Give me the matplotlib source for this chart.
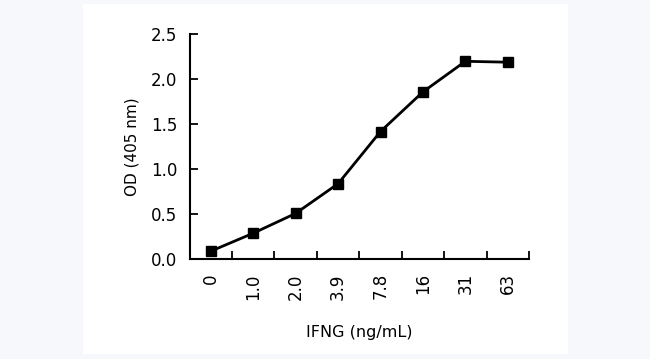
import matplotlib
matplotlib.use("Agg")
import matplotlib.pyplot as plt
from matplotlib.patches import Rectangle

categories = ["0", "1.0", "2.0", "3.9", "7.8", "16", "31", "63"]
od_values = [0.09, 0.29, 0.51, 0.84, 1.42, 1.86, 2.20, 2.19]
y_ticks = [0.0, 0.5, 1.0, 1.5, 2.0, 2.5]

plt.rcParams['font.family'] = ['DejaVu Sans']

W, H = 650, 359
fig = plt.figure(figsize=(6.5, 3.59), dpi=100)
fig.patch.set_facecolor('#f6f8fb')
fig.patches.append(Rectangle((83 / W, 1 - 354 / H), (568 - 83) / W, (354 - 4) / H,
                             transform=fig.transFigure, facecolor='white',
                             edgecolor='none', zorder=-10))

x0, x1 = 189.6, 529
y_top, y_bot = 34.3, 259.3
ax = fig.add_axes([x0 / W, 1 - y_bot / H, (x1 - x0) / W, (y_bot - y_top) / H])
ax.set_facecolor('none')

xs = [i + 0.5 for i in range(len(categories))]
ax.plot(xs, od_values, color='black', lw=2, marker='s', ms=7.5, mfc='black', mec='black')

ax.set_xlim(0, len(categories))
ax.set_ylim(0, 2.5)
ax.set_yticks(y_ticks)
ax.set_yticklabels([f"{v:.1f}" for v in y_ticks], fontsize=12)
ax.set_xticks(xs)
ax.set_xticklabels(categories, rotation=90, fontsize=12)
ax.tick_params(axis='x', which='major', length=0, pad=10)
ax.set_xticks(list(range(1, len(categories) + 1)), minor=True)
ax.tick_params(axis='x', which='minor', direction='in', length=6, width=1.3)
ax.tick_params(axis='y', direction='in', length=6, width=1.3, pad=9)

for s in ['top', 'right']:
    ax.spines[s].set_visible(False)
for s in ['left', 'bottom']:
    ax.spines[s].set_linewidth(1.5)

ax.set_ylabel("OD (405 nm)", fontsize=11, labelpad=8)
ax.set_xlabel("IFNG (ng/mL)", fontsize=11.5, labelpad=18)

fig.savefig("out.png", dpi=100, facecolor=fig.get_facecolor())
